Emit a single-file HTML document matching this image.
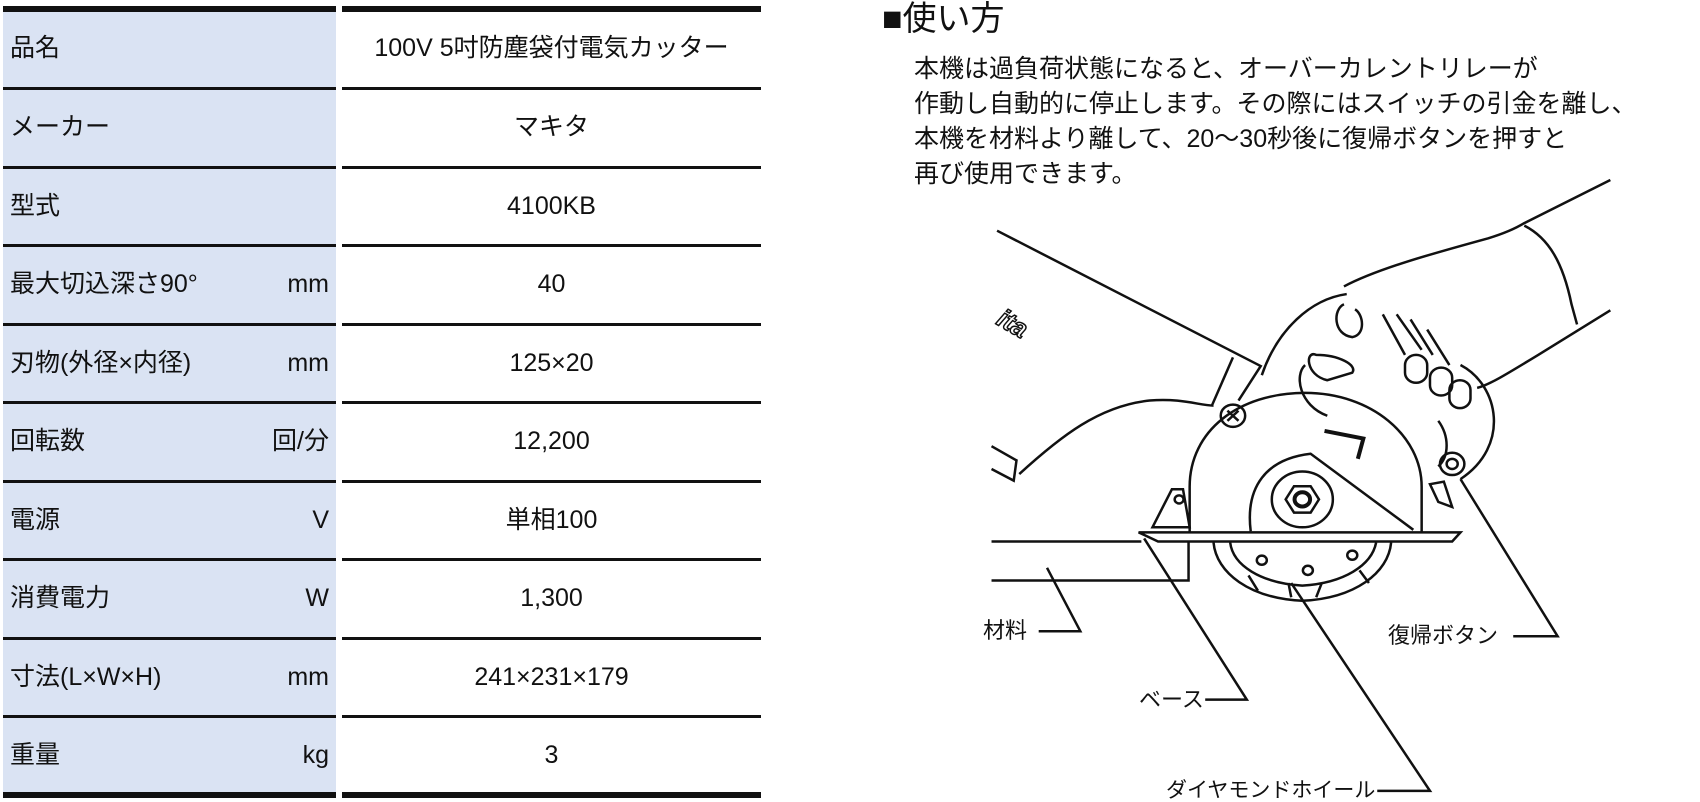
<!DOCTYPE html>
<html><head><meta charset="utf-8"><style>
body{margin:0;width:1700px;height:800px;background:#fff;position:relative;overflow:hidden;font-family:"Liberation Sans","Noto Sans CJK JP",sans-serif;color:#111}
.t{position:absolute;white-space:nowrap;line-height:1}
.bg{position:absolute;left:3px;top:9px;width:333px;height:786px;background:#dae3f3}
.ln{position:absolute;height:3px;background:#111}
.lbl{position:absolute;font-size:25px;line-height:1;white-space:nowrap}
</style></head><body>
<div class="bg"></div>
<div id="tbl"></div>
<script>
var ys=[9,88,167,245,324,402,481,559,638,716,795];
var rows=[["品名","","100V 5吋防塵袋付電気カッター"],["メーカー","","マキタ"],["型式","","4100KB"],["最大切込深さ90°","mm","40"],["刃物(外径×内径)","mm","125×20"],["回転数","回/分","12,200"],["電源","V","単相100"],["消費電力","W","1,300"],["寸法(L×W×H)","mm","241×231×179"],["重量","kg","3"]];
var h="";
ys.forEach(function(y,i){var th=(i==0||i==10)?6:3;h+='<div class="ln" style="left:3px;width:333px;top:'+(y-th/2)+'px;height:'+th+'px"></div><div class="ln" style="left:342px;width:419px;top:'+(y-th/2)+'px;height:'+th+'px"></div>';});
rows.forEach(function(r,i){var c=(ys[i]+ys[i+1])/2-12.5;
h+='<div class="lbl" style="left:10px;top:'+c+'px">'+r[0]+'</div>';
if(r[1])h+='<div class="lbl" style="right:'+(1700-329)+'px;top:'+c+'px">'+r[1]+'</div>';
h+='<div class="lbl" style="left:342px;width:419px;text-align:center;top:'+c+'px">'+r[2]+'</div>';});
document.getElementById("tbl").innerHTML=h;
</script>
<div class="t" style="left:882px;top:2px;font-size:34px">■使い方</div>
<div class="t" style="left:914px;top:52px;font-size:25px;line-height:35px">本機は過負荷状態になると、オーバーカレントリレーが<br>作動し自動的に停止します。その際にはスイッチの引金を離し、<br>本機を材料より離して、20～30秒後に復帰ボタンを押すと<br>再び使用できます。</div>
<svg width="1700" height="800" style="position:absolute;left:0;top:0" xmlns="http://www.w3.org/2000/svg">
<g transform="translate(850,0) scale(0.555,0.507)" fill="none" stroke="#111" stroke-width="2.5">
<path d="M265,455 L740,722 L700,790" vector-effect="non-scaling-stroke"/>
<path d="M690,705 L652,800" vector-effect="non-scaling-stroke"/>
<path d="M255,880 L300,908 L295,948 L255,925" vector-effect="non-scaling-stroke"/>
<path d="M305,935 C380,860 450,800 540,790 C600,785 630,800 655,800" vector-effect="non-scaling-stroke"/>
<path d="M255,1068 L525,1068 M255,1145 L610,1145 L610,1068" vector-effect="non-scaling-stroke"/>
<path d="M520,1050 L1100,1050 L1085,1068 L555,1068 Z" vector-effect="non-scaling-stroke"/>
<path d="M545,1040 L580,965 L600,965 L612,1040 Z" vector-effect="non-scaling-stroke"/>
<circle cx="593" cy="985" r="8" vector-effect="non-scaling-stroke"/>
<path d="M612,1050 L612,960 C612,850 700,775 820,775 C940,775 1030,860 1030,960 L1030,1050" vector-effect="non-scaling-stroke"/>
<path d="M722,1048 C712,960 750,905 830,895 L1015,1045" vector-effect="non-scaling-stroke"/>
<circle cx="815" cy="985" r="55" vector-effect="non-scaling-stroke"/>
<polygon points="845,985 830,1011 800,1011 785,985 800,959 830,959" vector-effect="non-scaling-stroke"/>
<circle cx="815" cy="985" r="14" stroke-width="4" vector-effect="non-scaling-stroke"/>
<circle cx="690" cy="820" r="22" vector-effect="non-scaling-stroke"/>
<path d="M680,810 L700,830 M700,810 L680,830" vector-effect="non-scaling-stroke"/>
<path d="M855,850 L925,865 L915,905" stroke-width="4" vector-effect="non-scaling-stroke"/>
<path d="M655,1070 C660,1130 720,1180 815,1185 C910,1180 970,1130 975,1070" vector-effect="non-scaling-stroke"/>
<path d="M685,1070 C690,1115 740,1150 815,1155 C890,1150 940,1115 948,1070" vector-effect="non-scaling-stroke"/>
<path d="M718,1135 L735,1165 M790,1150 L795,1178 M850,1150 L840,1178 M918,1125 L935,1150" vector-effect="non-scaling-stroke"/>
<circle cx="742" cy="1105" r="9" vector-effect="non-scaling-stroke"/>
<circle cx="825" cy="1125" r="9" vector-effect="non-scaling-stroke"/>
<circle cx="905" cy="1095" r="9" vector-effect="non-scaling-stroke"/>
<path d="M742,740 C770,650 830,590 895,580" vector-effect="non-scaling-stroke"/>
<path d="M1100,720 C1170,760 1190,880 1100,945" vector-effect="non-scaling-stroke"/>
<circle cx="1085" cy="915" r="22" vector-effect="non-scaling-stroke"/>
<circle cx="1085" cy="915" r="10" vector-effect="non-scaling-stroke"/>
<path d="M1045,955 L1070,950 L1085,1000 L1060,990 Z" vector-effect="non-scaling-stroke"/>
<path d="M890,565 C950,530 1050,500 1150,470 C1180,460 1200,450 1215,440 L1370,355" vector-effect="non-scaling-stroke"/>
<path d="M1215,445 C1260,470 1285,520 1300,600 L1310,640" vector-effect="non-scaling-stroke"/>
<path d="M1370,612 L1240,700 C1180,740 1150,760 1130,765" vector-effect="non-scaling-stroke"/>
<path d="M890,600 C870,610 870,660 905,665 C930,660 925,620 910,610" vector-effect="non-scaling-stroke"/>
<path d="M840,700 C820,690 820,740 860,750 L905,735 C915,720 880,700 840,700 Z" vector-effect="non-scaling-stroke"/>
<rect x="1000" y="700" width="40" height="55" rx="20" vector-effect="non-scaling-stroke"/>
<rect x="1045" y="725" width="40" height="55" rx="20" vector-effect="non-scaling-stroke"/>
<rect x="1080" y="750" width="38" height="55" rx="19" vector-effect="non-scaling-stroke"/>
<path d="M960,620 L1000,700 M985,620 L1030,690 M1010,630 L1050,700 M1040,650 L1080,720" vector-effect="non-scaling-stroke"/>
<path d="M820,720 C800,740 810,800 860,820 M1060,830 C1080,860 1080,900 1060,920" vector-effect="non-scaling-stroke"/>
<path d="M340,1245 L415,1245 L355,1120" vector-effect="non-scaling-stroke"/>
<path d="M640,1380 L715,1380 L530,1062" vector-effect="non-scaling-stroke"/>
<path d="M950,1560 L1045,1560 L795,1150" vector-effect="non-scaling-stroke"/>
<path d="M1195,1255 L1275,1255 L1100,945" vector-effect="non-scaling-stroke"/>
</g>
<text x="992" y="335" font-size="26" font-style="italic" font-weight="bold" transform="rotate(30 1015 335)" font-family="Liberation Sans, sans-serif" fill="none" stroke="#111" stroke-width="1.5">ita</text>
</svg>
<div class="t" style="left:983px;top:620px;font-size:22px">材料</div>
<div class="t" style="left:1139px;top:689px;font-size:22px">ベース</div>
<div class="t" style="left:1166px;top:780px;font-size:21px">ダイヤモンドホイール</div>
<div class="t" style="left:1388px;top:625px;font-size:22px">復帰ボタン</div>
</body></html>
